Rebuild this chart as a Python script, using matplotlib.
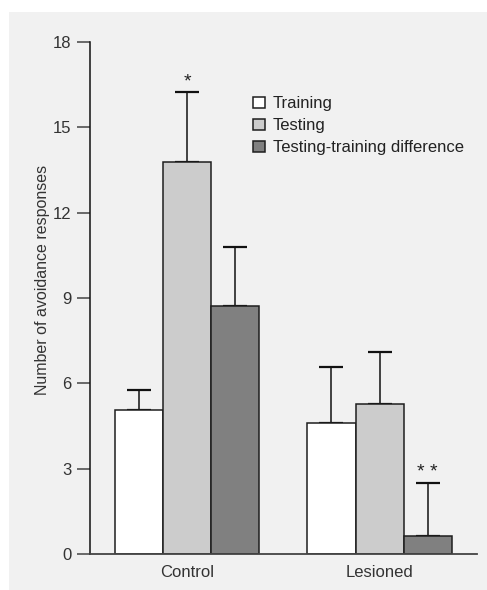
import matplotlib
matplotlib.use("Agg")
import matplotlib.pyplot as plt
from matplotlib.patches import Patch, Rectangle
import numpy as np

plt.rcParams['font.family'] = ['Liberation Sans', 'DejaVu Sans']

groups = ["Control", "Lesioned"]
series = ["Training", "Testing", "Testing-training difference"]
means = {
    "Training": [5.05, 4.62],
    "Testing": [13.78, 5.27],
    "Testing-training difference": [8.72, 0.63],
}
err_upper = {
    "Training": [0.70, 1.96],
    "Testing": [2.46, 1.84],
    "Testing-training difference": [2.08, 1.88],
}
marks = {("Testing", 0): "*", ("Testing-training difference", 1): "* *"}
yticks = [0, 3, 6, 9, 12, 15, 18]

colors = ["#ffffff", "#cccccc", "#808080"]
edge = "#1e1e1e"

fig = plt.figure(figsize=(4.87, 5.9), dpi=100)
# light panel behind the chart
fig.patches.append(Rectangle((9 / 487, 0), 1, 1 - 12 / 590, transform=fig.transFigure,
                             facecolor="#f1f1f1", edgecolor="none", zorder=-10))

ax = fig.add_axes([90 / 487, 36 / 590, 387 / 487, 512 / 590])
ax.set_facecolor("none")

x = np.arange(len(groups))
width = 0.25
offsets = [-width, 0, width]
for s, off, c in zip(series, offsets, colors):
    ax.bar(x + off, means[s], width, color=c, edgecolor=edge, linewidth=1.1, zorder=2)
    ax.errorbar(x + off, means[s], yerr=[np.zeros(len(groups)), err_upper[s]],
                fmt="none", ecolor="#111111", elinewidth=1.1, capsize=8.5,
                capthick=1.6, zorder=1)
    for i in range(len(groups)):
        if (s, i) in marks:
            ax.text(x[i] + off, means[s][i] + err_upper[s][i] + 0.05, marks[(s, i)],
                    ha="center", va="bottom", fontsize=14, color="#222222")

ax.set_xlim(-0.504, 1.506)
ax.set_ylim(0, 18)
ax.set_yticks(yticks)
ax.set_yticklabels([str(t) for t in yticks])
ax.set_xticks(x)
ax.set_xticklabels(groups)

for side in ["top", "right"]:
    ax.spines[side].set_visible(False)
ax.spines["left"].set_color("#111111")
ax.spines["left"].set_linewidth(1.1)
ax.spines["bottom"].set_color("#444444")
ax.spines["bottom"].set_linewidth(1.3)

ax.tick_params(axis="y", length=9.5, width=1.1, color="#444444", pad=4,
               labelsize=12, labelcolor="#333333")
ax.tick_params(axis="x", length=0, pad=8, labelsize=12, labelcolor="#333333")

ax.set_ylabel("Number of avoidance responses", fontsize=11.5, color="#333333")
ax.yaxis.set_label_coords(-0.103, 0.535)

handles = [Patch(facecolor=c, edgecolor=edge, linewidth=1.1) for c in colors]
ax.legend(handles, series, loc="upper left", bbox_to_anchor=(0.405, 0.907),
          frameon=False, fontsize=12, handlelength=0.7, handleheight=0.7,
          handletextpad=0.45, labelspacing=0.42, borderaxespad=0, labelcolor="#222222")

fig.savefig("out.png", dpi=100)
